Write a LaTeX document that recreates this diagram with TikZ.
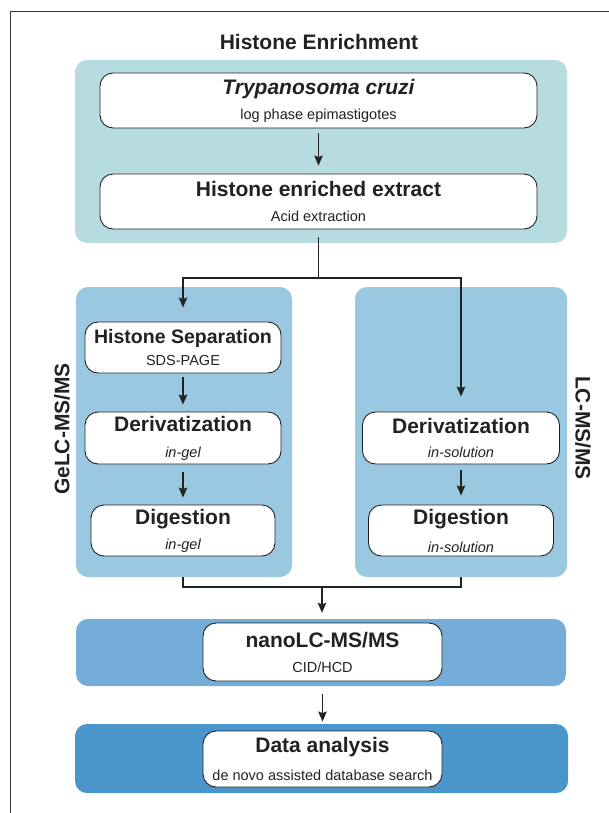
\documentclass[tikz,border=0pt]{standalone}
\usepackage{fontspec}
\setmainfont{Liberation Sans}
\usepackage{tikz}
\usetikzlibrary{arrows.meta, positioning, calc}

\newcommand{\boxhead}{\fontsize{21}{25}\selectfont\bfseries}
\newcommand{\boxsub}{\fontsize{14.5}{25}\selectfont\mdseries}

\begin{document}
\begin{tikzpicture}[x=1pt, y=-1pt,
  panel/.style={rounded corners=12pt, draw=none, inner sep=0pt},
  etapa/.style={draw=linha, fill=white, line width=0.9pt, rounded corners=13pt, inner sep=0pt, align=center, font=\boxsub, text=linha},
  seta/.style={->, >={Stealth[length=10pt,width=8.5pt,inset=1.5pt]}, line width=1.4pt, draw=linha},
  conector/.style={line width=1.4pt, draw=linha},
  rotulo/.style={font=\boxhead, text=linha, inner sep=0pt}]
% --- CORES DOS PAINEIS ---
\definecolor{linha}{HTML}{222222}
\definecolor{enriq}{HTML}{B6DCE2}
\definecolor{sep}{HTML}{9BC8E1}
\definecolor{nano}{HTML}{74AED8}
\definecolor{dados}{HTML}{4A95CC}

\useasboundingbox (0,0) rectangle (609,813);

% LAYER 1: Moldura e titulo
\draw[line width=0.9pt, color=linha!90] (609,11) -- (10,11) -- (10,813);
\node[rotulo] (titulo) at (319,42) {Histone Enrichment};

% LAYER 2: Paineis coloridos
\node[panel, fill=enriq, minimum width=492pt, minimum height=183pt] (enrich) at (321,151.5) {};
\node[panel, fill=sep, minimum width=216pt, minimum height=290pt] (gelc) at (184,432) {};
\node[panel, fill=sep, minimum width=212pt, minimum height=290pt] (lcms) at (461,432) {};
\node[panel, fill=nano, minimum width=490pt, minimum height=67pt] (nanop) at (321,652.5) {};
\node[panel, fill=dados, minimum width=493pt, minimum height=69pt] (datap) at (321.5,758.5) {};

% LAYER 3: Etapas
\node[etapa, minimum width=437pt, minimum height=55pt] (tcruzi) at (318.5,100.5) {{\boxhead\itshape Trypanosoma cruzi}\\log phase epimastigotes};
\node[etapa, minimum width=437pt, minimum height=55pt] (extract) at (318.5,201.5) {{\boxhead Histone enriched extract}\\Acid extraction};

\node[etapa, minimum width=196pt, minimum height=51pt] (histsep) at (183,347.5) {{\fontsize{19.5}{25}\selectfont\bfseries Histone Separation}\\[-3pt]SDS-PAGE};
\node[etapa, minimum width=196pt, minimum height=52pt] (derivgel) at (183,438) {{\boxhead Derivatization}\\[1pt]\itshape in-gel};
\node[etapa, minimum width=184pt, minimum height=51pt] (digestgel) at (183,530.5) {{\boxhead Digestion}\\\itshape in-gel};

\node[etapa, minimum width=197pt, minimum height=52pt] (derivsol) at (461,438) {{\boxhead Derivatization}\\[-1pt]\itshape in-solution};
\node[etapa, minimum width=185pt, minimum height=51pt] (digestsol) at (461,530.5) {{\boxhead Digestion}\\[3pt]\itshape in-solution};

\node[etapa, minimum width=239pt, minimum height=58pt] (nanolc) at (322.5,652) {{\boxhead nanoLC-MS/MS}\\CID/HCD};
\node[etapa, minimum width=239pt, minimum height=56pt] (analysis) at (322.5,759) {{\boxhead Data analysis}\\[3pt]de novo assisted database search};

% rotulos laterais
\node[rotulo, rotate=90] (gelclabel) at (62,429) {GeLC-MS/MS};
\node[rotulo, rotate=-90] (lcmslabel) at (583,428) {LC-MS/MS};

% LAYER 4: Setas e conectores
\coordinate (split) at (318.5,278);
\coordinate (merge) at (322,587);
\draw[seta, shorten <=5pt, shorten >=8pt] (tcruzi) -- (extract);
\draw[conector, shorten <=8pt] (extract) -- (split);
\draw[seta, shorten >=14pt] (split) -| (histsep);
\draw[seta, shorten >=15pt] (split) -| (derivsol);
\draw[seta, shorten <=4pt, shorten >=7pt] (histsep) -- (derivgel);
\draw[seta, shorten <=8pt, shorten >=7pt] (derivgel) -- (digestgel);
\draw[seta, shorten <=6pt, shorten >=9pt] (derivsol) -- (digestsol);
\draw[conector] (digestgel |- gelc.south) |- (merge) -| (digestsol |- lcms.south);
\draw[seta, shorten >=6pt] (merge) -- (merge |- nanop.north);
\draw[seta, shorten <=13pt, shorten >=9pt] (nanolc) -- (analysis);
\end{tikzpicture}
\end{document}
